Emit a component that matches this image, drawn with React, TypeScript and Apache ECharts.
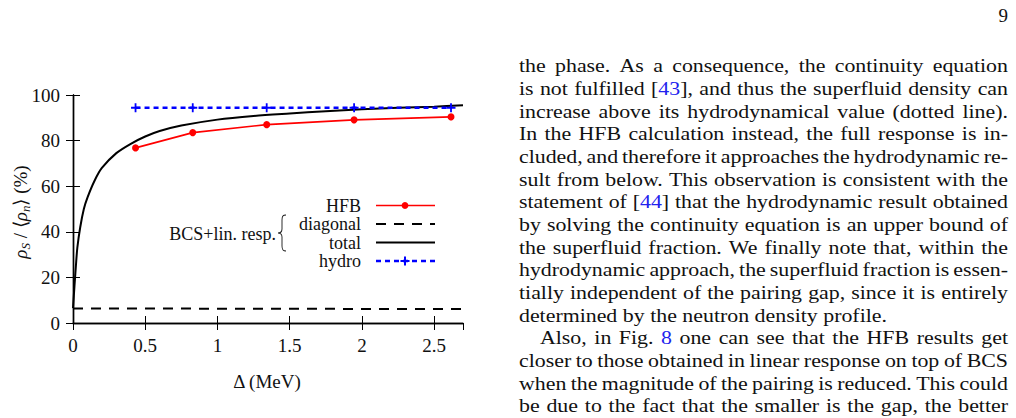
import React, { useEffect, useRef } from "react";
import * as echarts from "echarts";

// Pairing gap (MeV) of the HFB / hydro calculations
const gapMeV = [0.433, 0.829, 1.341, 1.946, 2.617];
// Superfluid fraction rho_S / <rho_n> (%)
const hfbPercent = [76.8, 83.5, 87.0, 89.1, 90.4];
const hydroPercent = [94.4, 94.4, 94.4, 94.4, 94.4];

// BCS + linear response, total
const totalGap = [0, 0.01, 0.02, 0.03, 0.05, 0.075, 0.1, 0.15, 0.2, 0.3, 0.4, 0.5, 0.6, 0.75, 1.0, 1.25, 1.5, 1.75, 2.0, 2.25, 2.5, 2.7];
const totalPercent = [6.5, 16, 25, 33, 42, 50, 55, 62.5, 68, 74.5, 78.6, 81.8, 84.2, 86.6, 89.2, 90.8, 91.9, 92.9, 93.7, 94.4, 94.9, 95.5];

// BCS + linear response, diagonal
const diagonalGap = [0, 1.35, 2.7];
const diagonalPercent = [6.4, 6.25, 6.1];

const xTickLabels = ["0", "0.5", "1", "1.5", "2", "2.5"];
const yTickLabels = ["0", "20", "40", "60", "80", "100"];

const legendNames = ["HFB", "diagonal", "total", "hydro"];

// Body text column next to the figure; {l|..} marks cross-reference links
const bodyLines = [
  "the phase.  As a consequence, the continuity equation",
  "is not fulfilled [{l|43}], and thus the superfluid density can",
  "increase above its hydrodynamical value (dotted line).",
  "In the HFB calculation instead, the full response is in-",
  "cluded, and therefore it approaches the hydrodynamic re-",
  "sult from below. This observation is consistent with the",
  "statement of [{l|44}] that the hydrodynamic result obtained",
  "by solving the continuity equation is an upper bound of",
  "the superfluid fraction. We finally note that, within the",
  "hydrodynamic approach, the superfluid fraction is essen-",
  "tially independent of the pairing gap, since it is entirely",
  "determined by the neutron density profile.",
  "Also, in Fig. {l|8} one can see that the HFB results get",
  "closer to those obtained in linear response on top of BCS",
  "when the magnitude of the pairing is reduced. This could",
  "be due to the fact that the smaller is the gap, the better",
];
const raggedLine = 11;
const indentedLine = 12;

const SERIF = "Liberation Serif";
const BODY_SIZE = 19;
const TEXT_LEFT = 519;
const TEXT_RIGHT = 1008;
const RAGGED_END = 887;
const FIRST_BASELINE = 71.7;
const LINE_PITCH = 22.67;

const braceShapeName = "legendBrace";
let braceRegistered = false;
function registerBrace() {
  if (braceRegistered) return;
  const d =
    "M10,0 C6,0 5,1.5 5,5 L5,14 C5,16.5 3.5,18 0,18 C3.5,18 5,19.5 5,22 L5,31 C5,34.5 6,36 10,36";
  echarts.graphic.registerShape(braceShapeName, echarts.graphic.extendPath(d, {}) as any);
  braceRegistered = true;
}

function buildBodyText(): any[] {
  const ctx = document.createElement("canvas").getContext("2d")!;
  ctx.font = `${BODY_SIZE}px "${SERIF}"`;
  const strip = (w: string) => w.replace(/\{l\|([^}]*)\}/g, "$1");
  const space = ctx.measureText(" ").width;
  // horizontal widening so the serif face sets the unjustified line at its printed length
  const raggedWidth = ctx.measureText(strip(bodyLines[raggedLine])).width;
  const widen = (RAGGED_END - TEXT_LEFT) / raggedWidth;
  const out: any[] = [];
  bodyLines.forEach((line, i) => {
    const yMid = FIRST_BASELINE + i * LINE_PITCH - 6;
    const words = line.split(/ +/);
    const widths = words.map((w) => ctx.measureText(strip(w)).width * widen);
    const left = TEXT_LEFT + (i === indentedLine ? 21 : 0);
    const total = widths.reduce((a, b) => a + b, 0);
    const gap = i === raggedLine ? space * widen : (TEXT_RIGHT - left - total) / (words.length - 1);
    let x = left;
    words.forEach((w, k) => {
      out.push({
        type: "text",
        x,
        y: yMid,
        scaleX: widen,
        silent: true,
        style: {
          text: w,
          fill: "#111",
          fontSize: BODY_SIZE,
          fontFamily: SERIF,
          lineHeight: 20,
          verticalAlign: "middle",
          align: "left",
          rich: { l: { fill: "#2222ee", fontSize: BODY_SIZE, fontFamily: SERIF, lineHeight: 20 } },
        },
      });
      x += widths[k] + gap;
    });
  });
  return out;
}

function legendText(text: string, x: number, y: number): any {
  return {
    type: "text",
    x,
    y,
    silent: true,
    style: {
      text,
      fontSize: 18,
      fontFamily: SERIF,
      lineHeight: 16,
      fill: "#111",
      align: "right",
      verticalAlign: "middle",
    },
  };
}

function buildLegend(): any[] {
  const textRight = 361;
  const sampleL = 376;
  const sampleR = 435;
  const rows = [205.5, 224, 242.5, 261];
  const els: any[] = legendNames.map((name, i) => legendText(name, textRight, rows[i]));
  // HFB sample
  els.push({
    type: "line",
    silent: true,
    shape: { x1: sampleL, y1: rows[0], x2: sampleR, y2: rows[0] },
    style: { stroke: "#ff0000", lineWidth: 1.6 },
  });
  els.push({ type: "circle", silent: true, shape: { cx: 405, cy: rows[0], r: 3.4 }, style: { fill: "#ff0000" } });
  // diagonal sample
  els.push({
    type: "line",
    silent: true,
    shape: { x1: sampleL, y1: rows[1], x2: sampleR, y2: rows[1] },
    style: { stroke: "#000", lineWidth: 2, lineDash: [10, 8] },
  });
  // total sample
  els.push({
    type: "line",
    silent: true,
    shape: { x1: sampleL, y1: rows[2], x2: sampleR, y2: rows[2] },
    style: { stroke: "#000", lineWidth: 2 },
  });
  // hydro sample
  els.push({
    type: "line",
    silent: true,
    shape: { x1: sampleL, y1: rows[3], x2: sampleR, y2: rows[3] },
    style: { stroke: "#0000ff", lineWidth: 2.4, lineDash: [5, 4] },
  });
  els.push({
    type: "polygon",
    silent: true,
    shape: {
      points: [
        [404, rows[3] - 4.5], [406, rows[3] - 4.5], [406, rows[3] - 1], [409.5, rows[3] - 1],
        [409.5, rows[3] + 1], [406, rows[3] + 1], [406, rows[3] + 4.5], [404, rows[3] + 4.5],
        [404, rows[3] + 1], [400.5, rows[3] + 1], [400.5, rows[3] - 1], [404, rows[3] - 1],
      ],
    },
    style: { fill: "#0000ff" },
  });
  // group label with brace
  els.push(legendText("BCS+lin. resp.", 276, 233.5));
  els.push({
    type: braceShapeName,
    x: 278,
    y: 215,
    scaleX: 0.8,
    scaleY: 1.0,
    silent: true,
    style: { stroke: "#111", fill: "none", lineWidth: 1.1 },
  });
  return els;
}

export default function App() {
  const ref = useRef<HTMLDivElement>(null);

  useEffect(() => {
    if (!ref.current) return;
    registerBrace();
    const chart = echarts.init(ref.current, null, { renderer: "svg" });

    const axisLine = { show: true, lineStyle: { color: "#000", width: 1.4 } };
    const tick = { show: true, inside: true, length: 7, lineStyle: { color: "#000", width: 1 } };
    const labelStyle = { color: "#111", fontFamily: SERIF, fontSize: 19 };

    const plus = "path://M4,0h2v4h4v2h-4v4h-2v-4h-4v-2h4z";

    chart.setOption({
      animation: false,
      backgroundColor: "#fff",
      grid: { left: 73, top: 95, width: 390, height: 228, containLabel: false },
      xAxis: [
        {
          type: "value",
          min: 0,
          max: 2.7,
          interval: 0.5,
          position: "bottom",
          axisLine,
          axisTick: tick,
          splitLine: { show: false },
          axisLabel: {
            ...labelStyle,
            margin: 13,
            showMaxLabel: false,
            formatter: (v: number) => xTickLabels[Math.round(v / 0.5)] ?? "",
          },
        },
        {
          type: "value",
          min: 0,
          max: 2.7,
          interval: 0.5,
          position: "top",
          axisLine,
          axisTick: tick,
          splitLine: { show: false },
          axisLabel: { show: false },
        },
      ],
      yAxis: [
        {
          type: "value",
          min: 0,
          max: 100,
          interval: 20,
          position: "left",
          axisLine,
          axisTick: tick,
          splitLine: { show: false },
          axisLabel: {
            ...labelStyle,
            margin: 13,
            formatter: (v: number) => yTickLabels[Math.round(v / 20)] ?? "",
          },
        },
        {
          type: "value",
          min: 0,
          max: 100,
          interval: 20,
          position: "right",
          axisLine,
          axisTick: tick,
          splitLine: { show: false },
          axisLabel: { show: false },
        },
      ],
      series: [
        {
          name: "diagonal",
          type: "line",
          data: diagonalGap.map((x, i) => [x, diagonalPercent[i]]),
          showSymbol: false,
          symbol: "none",
          lineStyle: { color: "#000", width: 2, type: [10, 8] },
          z: 2,
        },
        {
          name: "total",
          type: "line",
          data: totalGap.map((x, i) => [x, totalPercent[i]]),
          showSymbol: false,
          symbol: "none",
          smooth: 0.3,
          lineStyle: { color: "#000", width: 2 },
          z: 3,
        },
        {
          name: "HFB",
          type: "line",
          data: gapMeV.map((x, i) => [x, hfbPercent[i]]),
          symbol: "circle",
          symbolSize: 7,
          itemStyle: { color: "#ff0000" },
          lineStyle: { color: "#ff0000", width: 1.6 },
          z: 4,
        },
        {
          name: "hydro",
          type: "line",
          data: gapMeV.map((x, i) => [x, hydroPercent[i]]),
          symbol: plus,
          symbolSize: 9,
          itemStyle: { color: "#0000ff" },
          lineStyle: { color: "#0000ff", width: 2.4, type: [5, 4] },
          z: 5,
        },
      ],
      graphic: [
        // axis titles
        {
          type: "text",
          x: 267,
          y: 381,
          silent: true,
          style: { text: "Δ (MeV)", fontSize: 19, fontFamily: SERIF, fill: "#111", align: "center", verticalAlign: "middle" },
        },
        {
          type: "text",
          x: 20,
          y: 212,
          rotation: Math.PI / 2,
          silent: true,
          style: {
            text: "{r|ρ}{s|S}{t| / ⟨}{r|ρ}{s|n}{t|⟩ (%)}",
            fill: "#111",
            align: "center",
            verticalAlign: "middle",
            rich: {
              r: { fontFamily: SERIF, fontSize: 19, fontStyle: "italic", fill: "#111", lineHeight: 24 },
              s: { fontFamily: SERIF, fontSize: 13, fontStyle: "italic", fill: "#111", verticalAlign: "bottom", lineHeight: 24 },
              t: { fontFamily: SERIF, fontSize: 19, fill: "#111", lineHeight: 24 },
            },
          },
        },
        // page number
        {
          type: "text",
          x: 1008,
          y: 15,
          silent: true,
          style: { text: "9", fontSize: 19, fontFamily: SERIF, fill: "#111", align: "right", verticalAlign: "middle" },
        },
        ...buildLegend(),
        ...buildBodyText(),
      ],
    });

    return () => chart.dispose();
  }, []);

  return (
    <div
      ref={ref}
      style={{ position: "fixed", left: 0, top: 0, width: 1016, height: 418, background: "#fff" }}
    />
  );
}
